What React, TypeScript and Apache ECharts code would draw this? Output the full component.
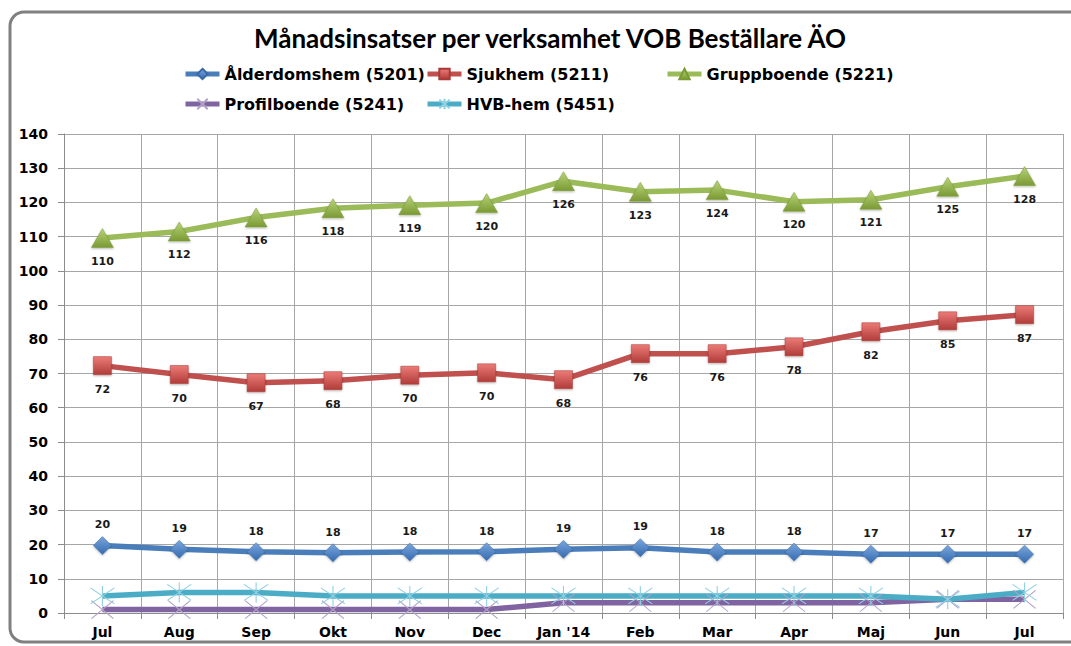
import React, { useEffect, useRef } from "react";
import * as echarts from "echarts";

const categories = ["Jul", "Aug", "Sep", "Okt", "Nov", "Dec", "Jan '14", "Feb", "Mar", "Apr", "Maj", "Jun", "Jul"];
const alderdomshem = [19.7, 18.6, 17.9, 17.6, 17.8, 17.9, 18.6, 19.1, 17.8, 17.8, 17.2, 17.2, 17.2];
const sjukhem = [72.3, 69.7, 67.3, 67.9, 69.5, 70.2, 68.2, 75.8, 75.8, 77.8, 82.2, 85.4, 87.2];
const gruppboende = [109.6, 111.5, 115.6, 118.3, 119.2, 119.8, 126.2, 123.1, 123.6, 120.2, 120.8, 124.6, 127.7];
const profilboende = [1, 1, 1, 1, 1, 1, 3, 3, 3, 3, 3, 4, 4];
const hvbhem = [5, 6, 6, 5, 5, 5, 5, 5, 5, 5, 5, 4, 6];
const seriesNames = ["Ålderdomshem (5201)", "Sjukhem (5211)", "Gruppboende (5221)", "Profilboende (5241)", "HVB-hem (5451)"];
const yTicks = { min: 0, max: 140, interval: 10 };

const AXIS_FONT = "'DejaVu Sans', Verdana, sans-serif";

function grad(top: string, bottom: string) {
  return new echarts.graphic.LinearGradient(0, 0, 0, 1, [
    { offset: 0, color: top },
    { offset: 1, color: bottom },
  ]);
}

export default function App() {
  const ref = useRef<HTMLDivElement>(null);
  useEffect(() => {
    if (!ref.current) return;
    const chart = echarts.init(ref.current, null, { renderer: "svg" });
    const labelStyle = {
      show: true,
      fontFamily: AXIS_FONT,
      fontWeight: "bold" as const,
      fontSize: 11,
      color: "#1a1a1a",
      formatter: (p: any) => Math.round(p.value).toString(),
    };
    const legendText = { fontFamily: AXIS_FONT, fontWeight: "bold" as const, fontSize: 16, color: "#000" };
    const legendPos = [
      { left: 183, top: 66 },
      { left: 425, top: 66 },
      { left: 665, top: 66 },
      { left: 183, top: 96 },
      { left: 425, top: 96 },
    ];
    const option: any = {
      animation: false,
      backgroundColor: "#ffffff",
      title: {
        text: "Månadsinsatser per verksamhet VOB Beställare ÄO",
        left: 249,
        top: 20,
        textStyle: { fontFamily: "Lato, 'Noto Sans', sans-serif", fontWeight: "bold", fontSize: 26, color: "#000" },
      },
      legend: seriesNames.map((n, i) => ({
        data: [n],
        left: legendPos[i].left,
        top: legendPos[i].top,
        padding: 0,
        itemWidth: 34,
        itemHeight: 13,
        lineStyle: { width: 5 },
        textStyle: legendText,
      })),
      grid: { left: 64, right: 8, top: 134, bottom: 33, containLabel: false },
      xAxis: {
        type: "category",
        data: categories,
        boundaryGap: true,
        axisLine: { show: true, lineStyle: { color: "#8c8c8c", width: 1 } },
        axisTick: { show: true, length: 6, lineStyle: { color: "#8c8c8c" } },
        splitLine: { show: true, lineStyle: { color: "#a6a6a6", width: 1 } },
        axisLabel: { fontFamily: AXIS_FONT, fontWeight: "bold", fontSize: 14, color: "#000", margin: 12 },
      },
      yAxis: {
        type: "value",
        min: yTicks.min,
        max: yTicks.max,
        interval: yTicks.interval,
        axisLine: { show: true, lineStyle: { color: "#8c8c8c", width: 1 } },
        axisTick: { show: true, length: 6, lineStyle: { color: "#8c8c8c" } },
        splitLine: { show: true, lineStyle: { color: "#a6a6a6", width: 1 } },
        axisLabel: { fontFamily: AXIS_FONT, fontWeight: "bold", fontSize: 14, color: "#000", margin: 16 },
      },
      graphic: [
        {
          type: "rect",
          shape: { x: 10, y: 12, width: 1080, height: 630, r: 14 },
          style: { fill: "none", stroke: "#808080", lineWidth: 3 },
          z: 100,
          silent: true,
        },
      ],
      series: [
        {
          name: seriesNames[0],
          type: "line",
          data: alderdomshem,
          symbol: "diamond",
          symbolSize: [18, 18],
          lineStyle: { color: "#4a7ebb", width: 5.5 },
          itemStyle: { color: grad("#7aa6dc", "#356bb0"), borderColor: "#3a6aa8", borderWidth: 0.5, shadowColor: "rgba(0,0,0,0.3)", shadowBlur: 2, shadowOffsetY: 1 },
          label: { ...labelStyle, position: "top", distance: 6 },
          z: 3,
        },
        {
          name: seriesNames[1],
          type: "line",
          data: sjukhem,
          symbol: "rect",
          symbolSize: [18, 18],
          lineStyle: { color: "#c0504d", width: 5.5 },
          itemStyle: { color: grad("#ec7b77", "#b03c39"), borderColor: "#a83a37", borderWidth: 0.5, shadowColor: "rgba(0,0,0,0.3)", shadowBlur: 2, shadowOffsetY: 1 },
          label: { ...labelStyle, position: "bottom", distance: 9 },
          z: 3,
        },
        {
          name: seriesNames[2],
          type: "line",
          data: gruppboende,
          symbol: "triangle",
          symbolSize: [22, 19],
          lineStyle: { color: "#9bbb59", width: 5.5 },
          itemStyle: { color: grad("#b8d477", "#7a9a35"), borderColor: "#7a9a35", borderWidth: 0.5, shadowColor: "rgba(0,0,0,0.3)", shadowBlur: 2, shadowOffsetY: 1 },
          label: { ...labelStyle, position: "bottom", distance: 8 },
          z: 3,
        },
        {
          name: seriesNames[3],
          type: "line",
          data: profilboende,
          symbol: "path://M0,0L20,20M20,0L0,20",
          symbolSize: [22, 18],
          lineStyle: { color: "#8064a2", width: 5.5 },
          itemStyle: { color: "rgba(0,0,0,0)", borderColor: "#b3a2c7", borderWidth: 1 },
          label: { show: false },
          z: 2,
        },
        {
          name: seriesNames[4],
          type: "line",
          data: hvbhem,
          symbol: "path://M0,2L20,18M20,2L0,18M10,0L10,20",
          symbolSize: [24, 20],
          lineStyle: { color: "#4bacc6", width: 5.5 },
          itemStyle: { color: "rgba(0,0,0,0)", borderColor: "#8fd0e2", borderWidth: 1 },
          label: { show: false },
          z: 2,
        },
      ],
    };
    chart.setOption(option);
    return () => chart.dispose();
  }, []);
  return (
    <div
      ref={ref}
      style={{ position: "absolute", left: 0, top: 0, width: 1071, height: 646, background: "#fff" }}
    />
  );
}
